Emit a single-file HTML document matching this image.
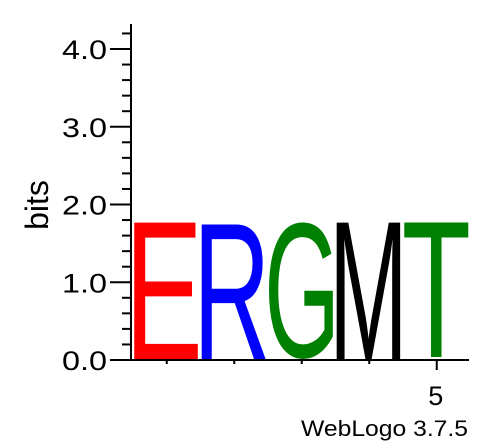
<!DOCTYPE html>
<html><head><meta charset="utf-8"><style>html,body{margin:0;padding:0;background:#fff}svg{display:block}</style></head>
<body>
<svg id="logo" width="494" height="444" xmlns="http://www.w3.org/2000/svg" font-family="'Liberation Sans', sans-serif">
<g id="axes"></g>
<g id="letters"></g>
</svg>
<script>
const letters = ['E','R','G','M','T'];
const heights = [1.76, 1.76, 1.76, 1.76, 1.76];
const colors = ['#ff0000','#0000ff','#008000','#000000','#008000'];
const yTicks = [0,1,2,3,4];
const yTickLabels = ['0.0','1.0','2.0','3.0','4.0'];
const xTickLabels = ['','','','','5'];

const NS='http://www.w3.org/2000/svg';
const x0=131, y0=360, pxPerBit=77.75, colW=67.5, xEnd=469, yTop=24;
const yS=v=>y0-v*pxPerBit;
function mk(tag,attrs,parent){const e=document.createElementNS(NS,tag);for(const k in attrs)e.setAttribute(k,attrs[k]);parent.appendChild(e);return e;}
const ax=document.getElementById('axes');
const lg=document.getElementById('letters');
const ctx=document.createElement('canvas').getContext('2d');
ctx.font='100px "Liberation Sans", sans-serif';

const yl=mk('line',{x1:x0,y1:yTop,x2:x0,y2:y0+1,stroke:'#000','stroke-width':2},ax);


const xl=mk('line',{x1:x0,y1:y0,x2:xEnd,y2:y0,stroke:'#000','stroke-width':2},ax);



for(let k=0;k<=21;k++){
  const v=k*0.2; const major=(k%5===0);
  const t=mk('line',{x1:major?110:122,y1:yS(v),x2:x0,y2:yS(v),stroke:'#000','stroke-width':2},ax);
  
  
}
yTicks.forEach((v,i)=>{
  const t=mk('text',{x:62,y:yS(v)+10,'font-size':27,textLength:45,lengthAdjust:'spacingAndGlyphs',fill:'#000'},ax);
  t.textContent=yTickLabels[i];
  
  
});
const yt=mk('text',{x:0,y:0,'font-size':32,'text-anchor':'middle',transform:'translate(48,205) rotate(-90)'},ax);
yt.textContent='bits';



letters.forEach((L,i)=>{
  const cx=x0+colW*i+colW/2+2;
  const last=xTickLabels[i]!=='';
  const t=mk('line',{x1:cx,y1:y0,x2:cx,y2:last?370:364,stroke:'#000','stroke-width':2},ax);
  
  
  if(last){
    const tl=mk('text',{x:cx-1,y:405,'font-size':27,'text-anchor':'middle'},ax);
    tl.textContent=xTickLabels[i];
    
    
  }
  const m=ctx.measureText(L);
  const inkL=-(m.actualBoundingBoxLeft||0);
  const inkW=(m.actualBoundingBoxRight||60)-inkL;
  const asc=m.actualBoundingBoxAscent||72;
  const desc=m.actualBoundingBoxDescent||0;
  const h=heights[i]*pxPerBit;
  const sy=h/(asc+desc);
  const sx=(colW-3)/inkW;
  const lx=x0+colW*i+3;
  const txt=mk('text',{x:0,y:0,'font-size':100,fill:colors[i],
    transform:`translate(${lx},${y0-1-desc*sy}) scale(${sx},${sy}) translate(${-inkL},0)`},lg);
  txt.textContent=L;
  
  
});
const wl=mk('text',{x:301,y:436,'font-size':22,textLength:167,lengthAdjust:'spacingAndGlyphs'},ax);
wl.textContent='WebLogo 3.7.5';


</script>
</body></html>
